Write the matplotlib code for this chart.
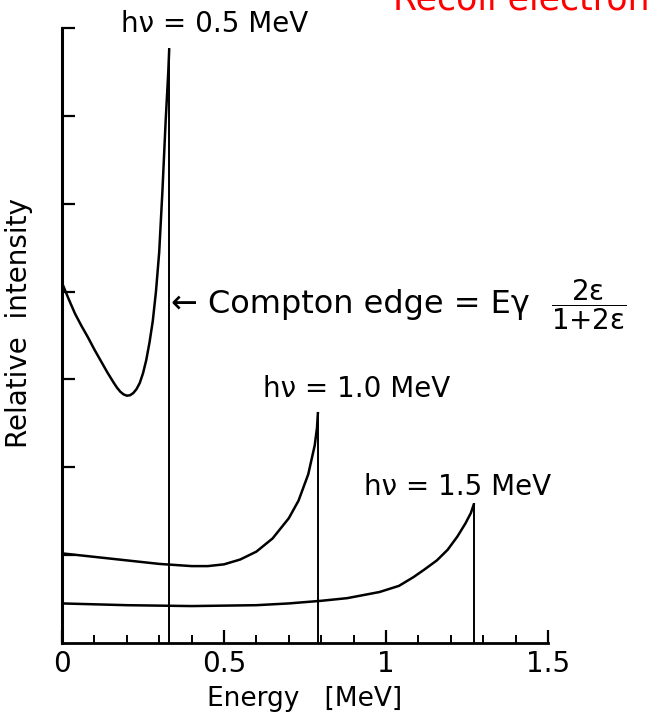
import matplotlib
matplotlib.use('Agg')
import matplotlib.pyplot as plt

# Energy [MeV] vs relative intensity
e05_x = [0, 0.02, 0.04, 0.06, 0.08, 0.10, 0.12, 0.14, 0.16, 0.17, 0.18, 0.19,
         0.20, 0.21, 0.22, 0.23, 0.24, 0.25, 0.26, 0.27, 0.28, 0.29, 0.30,
         0.31, 0.32, 0.328, 0.331]
e05_y = [4.10, 3.92, 3.75, 3.61, 3.48, 3.34, 3.21, 3.08, 2.96, 2.905, 2.86, 2.83,
         2.815, 2.82, 2.845, 2.89, 2.96, 3.07, 3.22, 3.42, 3.66, 4.00, 4.45,
         5.15, 5.95, 6.50, 6.77]

e10_x = [0, 0.1, 0.2, 0.3, 0.4, 0.45, 0.5, 0.55, 0.6, 0.65, 0.7, 0.73, 0.76,
         0.78, 0.787, 0.79]
e10_y = [1.02, 0.98, 0.94, 0.90, 0.875, 0.875, 0.895, 0.95, 1.04, 1.19, 1.42,
         1.62, 1.92, 2.25, 2.45, 2.63]

e15_x = [0, 0.2, 0.4, 0.6, 0.7, 0.8, 0.88, 0.98, 1.04, 1.085, 1.12, 1.157, 1.19,
         1.22, 1.245, 1.262, 1.272]
e15_y = [0.45, 0.43, 0.42, 0.43, 0.45, 0.48, 0.51, 0.58, 0.65, 0.75, 0.84, 0.94,
         1.06, 1.21, 1.36, 1.48, 1.59]

labels = ['hν = 0.5 MeV', 'hν = 1.0 MeV', 'hν = 1.5 MeV']
label_pos = [(0.47, 6.95), (0.91, 2.8), (1.22, 1.68)]
xticks_major = [0, 0.5, 1, 1.5]
xtick_labels = ['0', '0.5', '1', '1.5']

plt.rcParams['mathtext.fontset'] = 'dejavusans'

fig = plt.figure(figsize=(6.52, 7.2), dpi=100)
ax = fig.add_axes([0.0951, 0.107, 0.7454, 0.854])

lw = 1.8
for xs, ys in [(e05_x, e05_y), (e10_x, e10_y), (e15_x, e15_y)]:
    ax.plot(xs, ys, color='black', lw=lw, solid_capstyle='butt')
    # Compton edge: vertical drop at the last point
    ax.vlines(xs[-1], 0, ys[-1], color='black', lw=1.4)

ax.set_xlim(0, 1.5)
ax.set_ylim(0, 7)

for s in ['top', 'right']:
    ax.spines[s].set_visible(False)
ax.spines['left'].set_linewidth(2.2)
ax.spines['bottom'].set_linewidth(2.0)

ax.set_xticks(xticks_major)
ax.set_xticklabels(xtick_labels, fontsize=20)
ax.set_xticks([i / 10 for i in range(16)], minor=True)
ax.set_yticks(range(1, 8))
ax.set_yticklabels([])
ax.tick_params(axis='x', which='major', direction='in', length=9.4, width=1.6, pad=5)
ax.tick_params(axis='x', which='minor', direction='in', length=5.8, width=1.4)
ax.tick_params(axis='y', which='major', direction='in', length=9.4, width=1.6)

ax.set_xlabel('Energy   [MeV]', fontsize=19, labelpad=6)
ax.set_ylabel('Relative  intensity', fontsize=20)
ax.yaxis.set_label_coords(-0.06, 0.52)

for txt, (x, y) in zip(labels, label_pos):
    ax.text(x, y, txt, fontsize=20, ha='center', va='baseline', clip_on=False)

ax.text(0.335, 3.85, '← Compton edge = Eγ', fontsize=23, ha='left', va='center')
ax.text(1.625, 3.85, r'$\dfrac{2\mathrm{ε}}{1{+}2\mathrm{ε}}$', fontsize=20,
        ha='center', va='center', clip_on=False)

fig.text(0.603, 1 - 9 / 720, 'Recoil electron', color='red', fontsize=25,
         ha='left', va='baseline')

fig.savefig('out.png', dpi=100)
